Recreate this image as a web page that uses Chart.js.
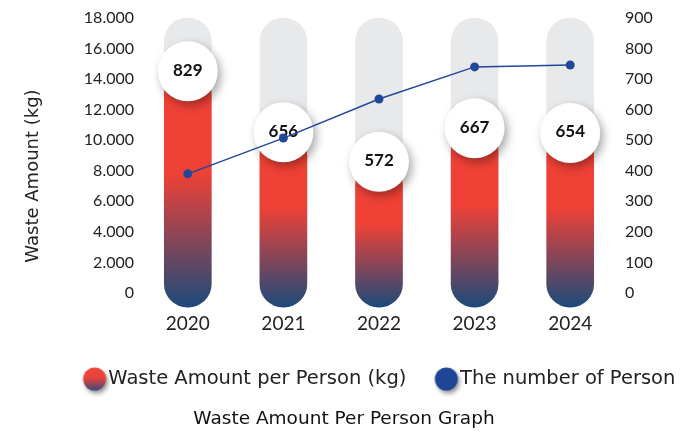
<!DOCTYPE html>
<html>
<head>
<meta charset="utf-8">
<script src="https://cdn.jsdelivr.net/npm/chart.js@4.4.1/dist/chart.umd.min.js"></script>
<style>
  html, body { margin: 0; padding: 0; background: #fff; }
  #wrap { width: 688px; height: 432px; position: relative; }
</style>
</head>
<body>
<div id="wrap"><canvas id="wasteChart"></canvas></div>
<script>
const years = ['2020', '2021', '2022', '2023', '2024'];
const wastePerPerson = [829, 656, 572, 667, 654];
const personCount = [390, 507, 635, 740, 746];
const trackTop = [18000, 18000, 18000, 18000, 18000];
const leftTicks = [0, 2000, 4000, 6000, 8000, 10000, 12000, 14000, 16000, 18000];
const rightTicks = [0, 100, 200, 300, 400, 500, 600, 700, 800, 900];

const FONT = 'Lato';
const TEXT_FONT = 'DejaVu Sans';
const RED = '#ef4136';
const NAVY = '#1d4a7a';
const LINE_BLUE = '#21479a';

// 18000 -> "18.000"
const dotThousands = (v) => String(v).replace(/\B(?=(\d{3})+(?!\d))/g, '.');

const barGradient = (context) => {
	const chart = context.chart;
	if (!chart.chartArea || context.dataIndex === undefined) return RED;
	const ds = context.dataset;
	const scale = chart.scales.yBar;
	const top = scale.getPixelForValue(ds.data[context.dataIndex]);
	const bottom = scale.getPixelForValue(ds.base);
	const g = chart.ctx.createLinearGradient(0, bottom, 0, top);
	g.addColorStop(0, NAVY);
	g.addColorStop(0.57, RED);
	g.addColorStop(1, RED);
	return g;
};

// small round legend markers with a soft drop shadow
const legendIcon = (gradient) => {
	const c = document.createElement('canvas');
	c.width = 40; c.height = 40;
	const x = c.getContext('2d');
	x.shadowColor = 'rgba(0,0,0,0.4)';
	x.shadowBlur = 4;
	x.shadowOffsetX = 2;
	x.shadowOffsetY = 3;
	if (gradient) {
		const g = x.createLinearGradient(0, 8.5, 0, 31.5);
		g.addColorStop(0, '#f2443a');
		g.addColorStop(0.45, '#e8423d');
		g.addColorStop(1, '#3b4a7a');
		x.fillStyle = g;
	} else {
		x.fillStyle = '#1f4694';
	}
	x.beginPath();
	x.arc(20, 20, 11.5, 0, Math.PI * 2);
	x.fill();
	return c;
};

const bubbleLabels = {
	id: 'bubbleLabels',
	afterDatasetDraw(chart, args) {
		if (args.index !== 1) return;
		const ctx = chart.ctx;
		const data = chart.data.datasets[1].data;
		args.meta.data.forEach((bar, i) => {
			ctx.save();
			ctx.shadowColor = 'rgba(0,0,0,0.35)';
			ctx.shadowBlur = 10;
			ctx.shadowOffsetX = 3;
			ctx.shadowOffsetY = 4;
			ctx.fillStyle = '#fff';
			ctx.beginPath();
			ctx.arc(bar.x, bar.y, 30, 0, Math.PI * 2);
			ctx.fill();
			ctx.restore();
			ctx.save();
			ctx.fillStyle = '#111';
			ctx.font = 'bold 17px ' + FONT;
			ctx.textAlign = 'center';
			ctx.textBaseline = 'middle';
			ctx.fillText(data[i], bar.x, bar.y - 1);
			ctx.restore();
		});
	}
};

const sideTitle = {
	id: 'sideTitle',
	afterDraw(chart) {
		const ctx = chart.ctx;
		ctx.save();
		ctx.translate(33, 176);
		ctx.rotate(-Math.PI / 2);
		ctx.fillStyle = '#222';
		ctx.font = '18px ' + TEXT_FONT;
		ctx.textAlign = 'center';
		ctx.textBaseline = 'middle';
		ctx.fillText('Waste Amount (kg)', 0, 0);
		ctx.restore();
	}
};

// the legend row sits a little right of centre
const legendShift = {
	id: 'legendShift',
	afterLayout(chart) {
		chart.legend.left += 39;
		chart.legend.right += 39;
	}
};

const icons = [legendIcon(true), legendIcon(false)];

new Chart('wasteChart', {
	data: {
		labels: years,
		datasets: [
			{
				type: 'line',
				label: 'The number of Person',
				data: personCount,
				yAxisID: 'y2',
				borderColor: LINE_BLUE,
				backgroundColor: LINE_BLUE,
				borderWidth: 1.5,
				pointRadius: 4.5,
				pointBorderWidth: 0,
				order: 0
			},
			{
				type: 'bar',
				label: 'Waste Amount per Person (kg)',
				data: wastePerPerson,
				yAxisID: 'yBar',
				base: 160,
				backgroundColor: barGradient,
				barThickness: 47,
				borderRadius: 23.5,
				borderSkipped: false,
				grouped: false,
				clip: false,
				order: 1
			},
			{
				type: 'bar',
				label: 'track',
				data: trackTop,
				yAxisID: 'y',
				base: -916,
				backgroundColor: '#e8e9eb',
				barThickness: 47,
				borderRadius: 23.5,
				borderSkipped: false,
				grouped: false,
				clip: false,
				order: 2
			}
		]
	},
	options: {
		responsive: true,
		maintainAspectRatio: false,
		animation: false,
		layout: { padding: { top: 18, left: 0, right: 0, bottom: 0 } },
		scales: {
			x: {
				grid: { display: false, drawTicks: false },
				border: { display: false },
				ticks: { color: '#222', padding: 19, font: { family: FONT, size: 19 } },
				afterFit: (axis) => { axis.height = 40.3; }
			},
			y: {
				position: 'left',
				min: 0,
				max: 18000,
				grid: { display: false, drawTicks: false },
				border: { display: false },
				afterBuildTicks: (axis) => { axis.ticks = leftTicks.map(v => ({ value: v })); },
				ticks: {
					color: '#222',
					padding: 6,
					font: { family: FONT, size: 16 },
					callback: (v) => dotThousands(v)
				},
				afterFit: (axis) => { axis.width = 140; }
			},
			y2: {
				position: 'right',
				min: 0,
				max: 900,
				grid: { display: false, drawTicks: false },
				border: { display: false },
				afterBuildTicks: (axis) => { axis.ticks = rightTicks.map(v => ({ value: v })); },
				ticks: { color: '#222', padding: 7, font: { family: FONT, size: 16 } },
				afterFit: (axis) => { axis.width = 70; }
			},
			yBar: {
				display: false,
				min: 200,
				max: 980
			}
		},
		plugins: {
			tooltip: { enabled: false },
			legend: {
				position: 'bottom',
				labels: {
					usePointStyle: true,
					boxWidth: 8,
					padding: 36,
					color: '#222',
					font: { family: TEXT_FONT, size: 19.5 },
					generateLabels: (chart) => [1, 0].map((idx, k) => ({
						text: chart.data.datasets[idx].label,
						pointStyle: icons[k],
						fillStyle: 'transparent',
						strokeStyle: 'transparent',
						lineWidth: 0,
						fontColor: '#222',
						datasetIndex: idx
					}))
				}
			},
			title: {
				display: true,
				position: 'bottom',
				text: 'Waste Amount Per Person Graph',
				color: '#111',
				font: { family: TEXT_FONT, size: 18.5, weight: 'normal' },
				padding: { top: 9, bottom: 2 }
			}
		}
	},
	plugins: [bubbleLabels, sideTitle, legendShift]
});
</script>
</body>
</html>
